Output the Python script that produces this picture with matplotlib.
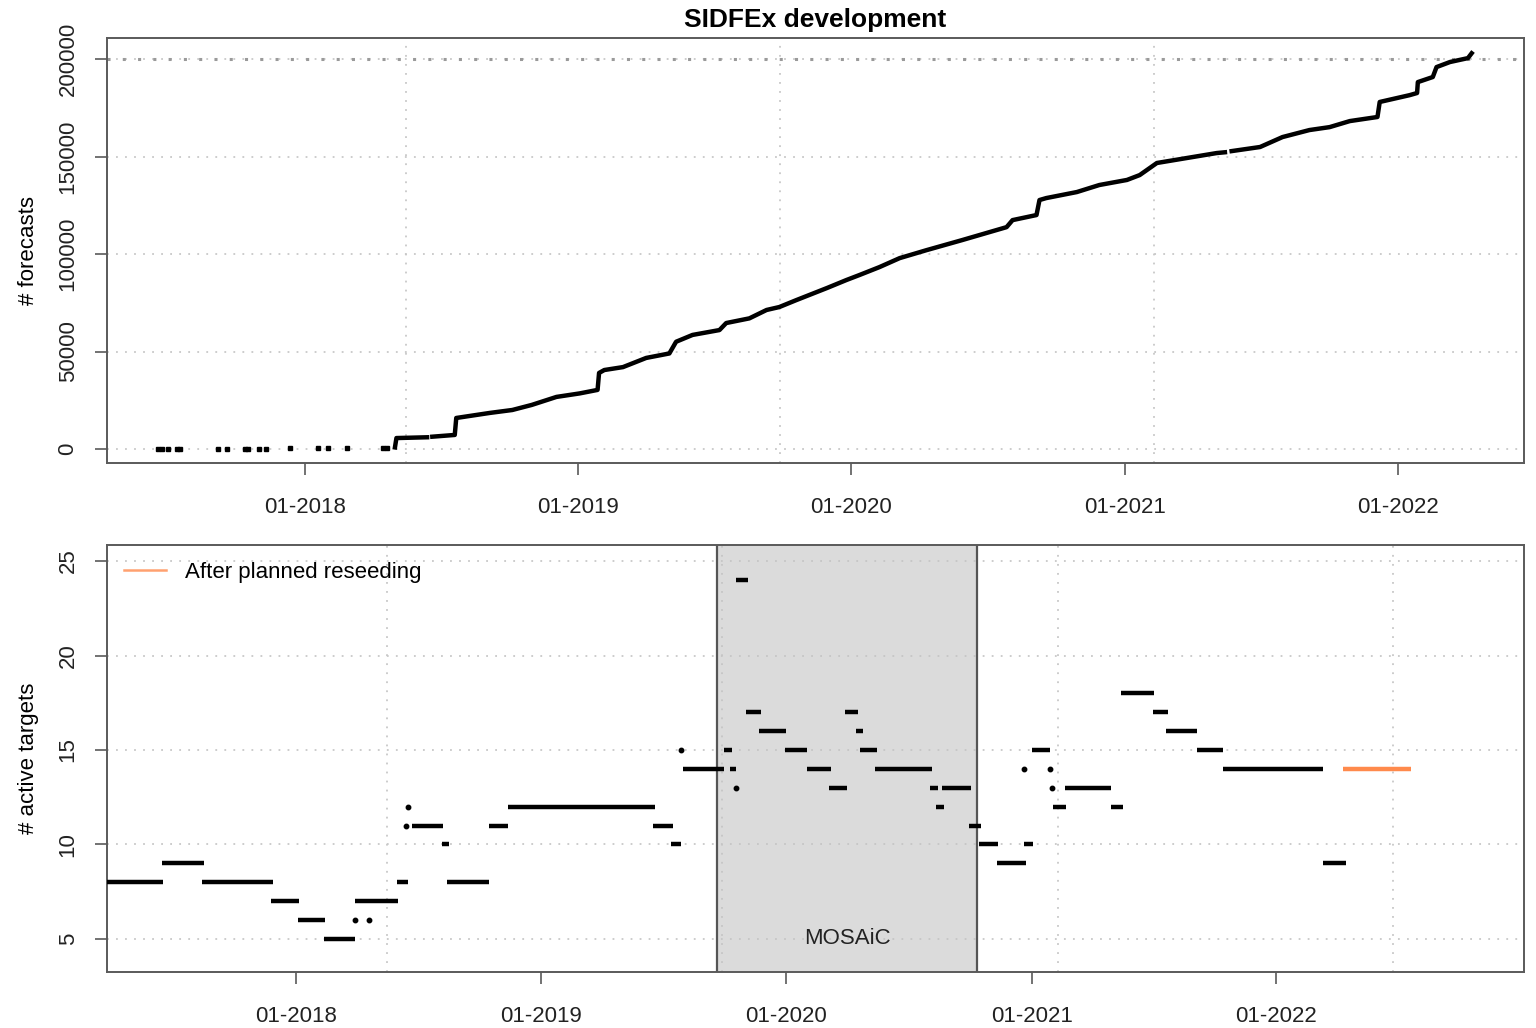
# SIDFEx development: cumulative forecasts and active targets

import numpy as np
import matplotlib
matplotlib.use("Agg")
import matplotlib.pyplot as plt
import matplotlib.dates as mdates
from matplotlib.lines import Line2D

plt.rcParams['font.family'] = ['Liberation Sans', 'DejaVu Sans']

# ---- top panel: number of forecasts (cumulative) ----
early_dates = ['2017-06-18', '2017-06-23', '2017-07-01', '2017-07-13', '2017-07-17',
               '2017-09-06', '2017-09-18', '2017-10-12', '2017-10-16', '2017-10-31',
               '2017-11-10', '2017-12-12', '2018-01-18', '2018-01-31', '2018-02-26',
               '2018-04-15', '2018-04-20']
early_vals = [20, 40, 60, 80, 100, 120, 140, 160, 180, 200,
              220, 260, 300, 340, 380, 600, 700]

fc_dates = ['2018-05-01', '2018-05-03', '2018-06-13', '2018-06-16', '2018-06-20',
            '2018-07-20', '2018-07-22', '2018-09-05', '2018-10-05', '2018-10-31',
            '2018-12-03', '2019-01-03', '2019-01-27', '2019-01-29', '2019-02-05',
            '2019-03-02', '2019-04-02', '2019-05-03', '2019-05-12', '2019-06-03',
            '2019-07-09', '2019-07-18', '2019-08-18', '2019-09-10', '2019-09-27',
            '2019-10-20', '2019-11-30', '2019-12-26', '2020-01-12', '2020-02-08',
            '2020-03-06', '2020-04-11', '2020-05-29', '2020-07-27', '2020-08-04',
            '2020-09-05', '2020-09-09', '2020-09-18', '2020-10-29', '2020-11-28',
            '2021-01-04', '2021-01-21', '2021-02-13', '2021-05-04', '2021-05-15',
            '2021-05-19', '2021-05-24', '2021-07-01', '2021-07-31', '2021-09-05',
            '2021-10-02', '2021-10-29', '2021-12-05', '2021-12-08', '2022-01-17',
            '2022-01-27', '2022-01-28', '2022-02-17', '2022-02-22', '2022-03-12',
            '2022-04-05', '2022-04-10']
fc_vals = [800, 5600, 6000, np.nan, 6300,
           7200, 15900, 18500, 20000, 22600,
           26700, 28500, 30300, 39000, 40500,
           42000, 46700, 49000, 55000, 58500,
           61000, 64600, 67000, 71300, 72800,
           76400, 82600, 86700, 89200, 93300,
           97900, 102000, 107200, 113800, 117400,
           120000, 127700, 128700, 131800, 135400,
           138000, 140500, 146700, 151800, 152200,
           np.nan, 152800, 154900, 160000, 163600,
           165100, 168200, 170300, 178000, 181500,
           182600, 188200, 190800, 195900, 198500,
           200500, 203000]
target = 200000

# ---- bottom panel: number of active targets ----
seg_start = ['2017-03-25', '2017-06-15', '2017-08-13', '2017-11-25', '2018-01-04',
             '2018-02-11', '2018-03-29', '2018-05-31', '2018-06-22', '2018-08-06',
             '2018-08-14', '2018-10-15', '2018-11-12', '2019-06-16', '2019-07-14',
             '2019-07-31', '2019-09-30', '2019-10-10', '2019-10-19', '2019-11-03',
             '2019-11-21', '2019-12-30', '2020-02-01', '2020-03-05', '2020-03-29',
             '2020-04-14', '2020-04-21', '2020-05-12', '2020-08-02', '2020-08-12',
             '2020-08-21', '2020-09-29', '2020-10-14', '2020-11-10', '2020-12-20',
             '2021-01-01', '2021-02-02', '2021-02-20', '2021-04-29', '2021-05-15',
             '2021-07-01', '2021-07-21', '2021-09-04', '2021-10-13', '2022-03-11']
seg_end = ['2017-06-16', '2017-08-16', '2017-11-27', '2018-01-05', '2018-02-13',
           '2018-03-29', '2018-06-02', '2018-06-16', '2018-08-07', '2018-08-16',
           '2018-10-16', '2018-11-13', '2019-06-19', '2019-07-16', '2019-07-28',
           '2019-10-01', '2019-10-12', '2019-10-19', '2019-11-06', '2019-11-24',
           '2020-01-01', '2020-02-02', '2020-03-08', '2020-04-01', '2020-04-17',
           '2020-04-24', '2020-05-15', '2020-08-05', '2020-08-15', '2020-08-24',
           '2020-10-03', '2020-10-18', '2020-11-12', '2020-12-23', '2021-01-03',
           '2021-01-28', '2021-02-21', '2021-04-30', '2021-05-17', '2021-07-03',
           '2021-07-23', '2021-09-05', '2021-10-14', '2022-03-12', '2022-04-14']
seg_val = [8, 9, 8, 7, 6, 5, 7, 8, 11, 10, 8, 11, 12, 11, 10,
           14, 15, 14, 24, 17, 16, 15, 14, 13, 17, 16, 15, 14, 13, 12,
           13, 11, 10, 9, 10, 15, 12, 13, 12, 18, 17, 16, 15, 14, 9]

dot_dates = ['2018-03-30', '2018-04-20', '2018-06-13', '2018-06-17', '2019-07-29',
             '2019-10-19', '2020-12-21', '2021-01-28', '2021-02-01']
dot_vals = [6, 6, 11, 12, 15, 13, 14, 14, 13]

reseed_start = ['2022-04-10']
reseed_end = ['2022-07-21']
reseed_val = [14]

mosaic_start, mosaic_end = '2019-09-20', '2020-10-12'

# grid lines every 500 days, ticks at each January
grid_dates = ['2018-05-16', '2019-09-28', '2021-02-09', '2022-06-24']
tick_dates = ['2018-01-01', '2019-01-01', '2020-01-01', '2021-01-01', '2022-01-01']


def dn(d):
    return mdates.date2num(np.array(d, dtype='datetime64[D]'))


frame_col = '#5a5a5a'
grid_col = '#c8c8c8'
orange = '#ff8a4c'

fig = plt.figure(figsize=(15.36, 10.28), dpi=100)
ax1 = fig.add_axes([0.0697, 0.5496, 0.9225, 0.4134])
ax2 = fig.add_axes([0.0697, 0.0545, 0.9225, 0.4153])

for ax in (ax1, ax2):
    for s in ax.spines.values():
        s.set_color(frame_col)
        s.set_linewidth(1.4)
    ax.tick_params(length=8.5, width=1.2, color=frame_col, labelsize=16,
                   labelcolor='#222222')
    ax.tick_params(axis='x', pad=16)
    ax.tick_params(axis='y', labelrotation=90, pad=12)
    ax.set_xticks(dn(tick_dates))
    ax.xaxis.set_major_formatter(mdates.DateFormatter('%m-%Y'))
    for g in grid_dates:
        ax.axvline(dn(g), color=grid_col, ls=(0, (1, 4)), lw=1.3, zorder=0)

# top panel
ax1.set_xlim(dn('2017-04-11'), dn('2022-06-19'))
ax1.set_ylim(-7200, 210800)
ax1.set_yticks([0, 50000, 100000, 150000, 200000])
for y in ax1.get_yticks():
    ax1.axhline(y, color=grid_col, ls=(0, (1, 4)), lw=1.3, zorder=0)
ax1.axhline(target, color='#9a9a9a', ls=(0, (1, 4)), lw=2.2, zorder=1)
ax1.plot(dn(early_dates), early_vals, 's', color='black', markersize=3.2, zorder=3)
ax1.plot(dn(fc_dates), fc_vals, color='black', lw=3.2, zorder=3)
ax1.set_title('SIDFEx development', fontsize=19, fontweight='bold', pad=8)
ax1.set_ylabel('# forecasts', fontsize=16, va='center')
ax1.yaxis.set_label_coords(-0.0557, 0.5)

# bottom panel
ax2.set_xlim(dn('2017-03-25'), dn('2023-01-05'))
ax2.set_ylim(3.25, 25.85)
ax2.set_yticks([5, 10, 15, 20, 25])
for y in ax2.get_yticks():
    ax2.axhline(y, color=grid_col, ls=(0, (1, 4)), lw=1.3, zorder=0)
ax2.axvspan(dn(mosaic_start), dn(mosaic_end), facecolor='#c4c4c4', alpha=0.6,
            edgecolor='none', zorder=1)
ax2.axvline(dn(mosaic_start), color='#555555', lw=1.6, zorder=2)
ax2.axvline(dn(mosaic_end), color='#555555', lw=1.6, zorder=2)
ax2.text((dn(mosaic_start) + dn(mosaic_end)) / 2, 5, 'MOSAiC', fontsize=16,
         ha='center', va='center', color='#222222', zorder=3)
ax2.hlines(seg_val, dn(seg_start), dn(seg_end), color='black', lw=3.2, zorder=3)
ax2.plot(dn(dot_dates), dot_vals, 'o', color='black', markersize=3.2, zorder=3)
ax2.hlines(reseed_val, dn(reseed_start), dn(reseed_end), color=orange, lw=3.2, zorder=3)
ax2.set_ylabel('# active targets', fontsize=16, va='center')
ax2.yaxis.set_label_coords(-0.0557, 0.5)
ax2.legend(handles=[Line2D([], [], color=orange, lw=1.8, alpha=0.8)],
           labels=['After planned reseeding'], loc='upper left', frameon=False,
           fontsize=16, handlelength=1.9, handletextpad=0.85,
           bbox_to_anchor=(0.0, 1.0), borderaxespad=0.35)

for ax in (ax1, ax2):
    for lab in ax.get_yticklabels():
        lab.set_va('center')

plt.savefig('out.png', dpi=100)
